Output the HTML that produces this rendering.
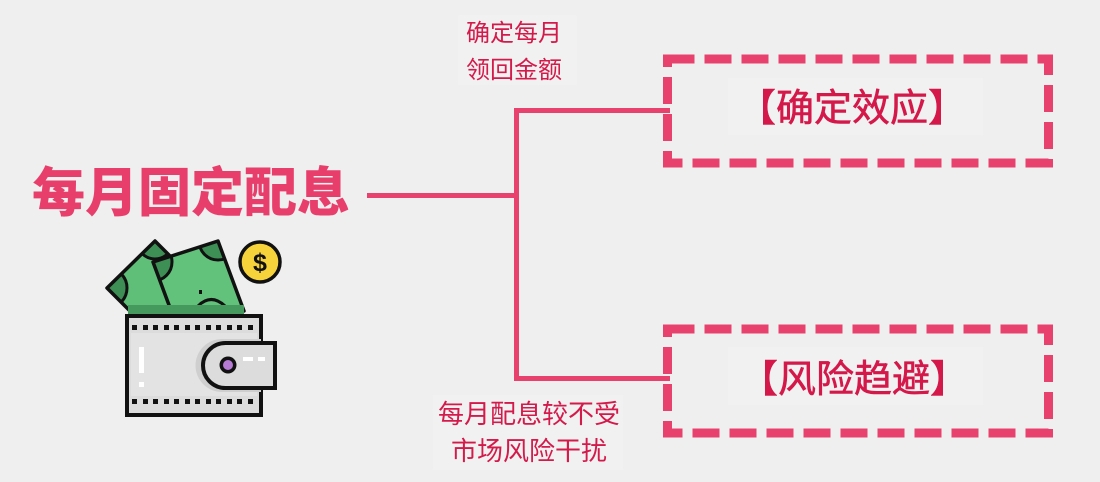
<!DOCTYPE html>
<html>
<head>
<meta charset="utf-8">
<style>
  html,body{margin:0;padding:0;background:#efefef;}
  body{width:1100px;height:482px;overflow:hidden;}
  svg{display:block;}
  .cjk{font-family:"Liberation Sans","Noto Sans CJK SC","WenQuanYi Zen Hei",sans-serif;}
</style>
</head>
<body>
<svg width="1100" height="482" viewBox="0 0 1100 482" xmlns="http://www.w3.org/2000/svg">
  <defs>
    <clipPath id="billA"><polygon points="107,288 155,241 203,289 155,336"/></clipPath>
    <clipPath id="billB"><polygon points="153,262 218,241 244,311 179,332"/></clipPath>
  </defs>
  <rect x="0" y="0" width="1100" height="482" fill="#efefef"/>

  <!-- faint highlight boxes -->
  <rect x="458" y="15" width="119" height="70" fill="#f1f1f1"/>
  <rect x="433" y="395" width="190" height="75" fill="#f1f1f1"/>
  <rect x="728" y="78" width="255" height="57" fill="#f1f1f1"/>
  <rect x="728" y="347" width="255" height="58" fill="#f1f1f1"/>

  <!-- title -->
  <text class="cjk" x="191" y="211" text-anchor="middle" font-size="53" font-weight="900" fill="#e83e6c">每月固定配息</text>

  <!-- connectors -->
  <g fill="#e8416d">
    <rect x="367" y="193" width="152" height="5"/>
    <rect x="514" y="108" width="5" height="273"/>
    <rect x="514" y="108" width="156" height="5"/>
    <rect x="514" y="376" width="156" height="5"/>
  </g>

  <!-- dashed boxes -->
  <rect x="667.5" y="59" width="381" height="104" fill="none" stroke="#e8416d" stroke-width="9" stroke-dasharray="27 10"/>
  <rect x="667.5" y="329" width="381" height="104" fill="none" stroke="#e8416d" stroke-width="9" stroke-dasharray="27 10"/>

  <!-- box texts -->
  <text class="cjk" x="852" y="121" text-anchor="middle" font-size="38" fill="#d4184a" stroke="#d4184a" stroke-width="0.6">【确定效应】</text>
  <text class="cjk" x="854" y="392" text-anchor="middle" font-size="38" fill="#d4184a" stroke="#d4184a" stroke-width="0.6">【风险趋避】</text>

  <!-- labels -->
  <text class="cjk" x="514" y="41" text-anchor="middle" font-size="24" fill="#d41a4b">确定每月</text>
  <text class="cjk" x="514" y="78" text-anchor="middle" font-size="24" fill="#d41a4b">领回金额</text>
  <text class="cjk" x="529" y="423" text-anchor="middle" font-size="26" fill="#d41a4b">每月配息较不受</text>
  <text class="cjk" x="529" y="460" text-anchor="middle" font-size="26" fill="#d41a4b">市场风险干扰</text>

  <!-- wallet illustration -->
  <!-- back bill -->
  <polygon points="107,288 155,241 203,289 155,336" fill="#5fbf78"/>
  <g clip-path="url(#billA)">
    <circle cx="107" cy="288" r="20" fill="#3e8f55" stroke="#111" stroke-width="3"/>
    <circle cx="155" cy="241" r="18" fill="#3e8f55" stroke="#111" stroke-width="3"/>
  </g>
  <polygon points="107,288 155,241 203,289 155,336" fill="none" stroke="#111" stroke-width="3.5" stroke-linejoin="round"/>

  <!-- front bill -->
  <polygon points="153,262 218,241 244,311 179,332" fill="#62c27b"/>
  <g clip-path="url(#billB)">
    <circle cx="153" cy="262" r="19" fill="#3e8f55" stroke="#111" stroke-width="3"/>
    <circle cx="218" cy="241" r="19" fill="#3e8f55" stroke="#111" stroke-width="3"/>
  </g>
  <polygon points="153,262 218,241 244,311 179,332" fill="none" stroke="#111" stroke-width="3.5" stroke-linejoin="round"/>
  <rect x="199" y="290" width="3" height="4" fill="#111"/>
  <path d="M198,306 Q211,293 225,306" fill="none" stroke="#111" stroke-width="3"/>

  <!-- dark band at wallet top -->
  <rect x="128" y="305" width="116" height="11" fill="#45995c"/>

  <!-- wallet body -->
  <rect x="127" y="316" width="134" height="99" fill="#dcdcdd" stroke="#111" stroke-width="4"/>
  <rect x="131" y="333" width="126" height="63" fill="#e3e3e4"/>
  <g fill="#111">
    <rect x="132" y="325" width="5" height="5"/><rect x="143" y="325" width="5" height="5"/>
    <rect x="153" y="325" width="5" height="5"/><rect x="164" y="325" width="5" height="5"/>
    <rect x="174" y="325" width="5" height="5"/><rect x="185" y="325" width="5" height="5"/>
    <rect x="195" y="325" width="5" height="5"/><rect x="206" y="325" width="5" height="5"/>
    <rect x="216" y="325" width="5" height="5"/><rect x="227" y="325" width="5" height="5"/>
    <rect x="237" y="325" width="5" height="5"/><rect x="248" y="325" width="5" height="5"/>
    <rect x="132" y="399" width="5" height="5"/><rect x="143" y="399" width="5" height="5"/>
    <rect x="153" y="399" width="5" height="5"/><rect x="164" y="399" width="5" height="5"/>
    <rect x="174" y="399" width="5" height="5"/><rect x="185" y="399" width="5" height="5"/>
    <rect x="195" y="399" width="5" height="5"/><rect x="206" y="399" width="5" height="5"/>
    <rect x="216" y="399" width="5" height="5"/><rect x="227" y="399" width="5" height="5"/>
    <rect x="237" y="399" width="5" height="5"/><rect x="248" y="399" width="5" height="5"/>
  </g>
  <rect x="139" y="347" width="5" height="26" fill="#ffffff"/>
  <rect x="139" y="382" width="5" height="5" fill="#ffffff"/>

  <!-- clasp -->
  <path d="M222,339 L261,339 L261,392 L222,392 A26.5,26.5 0 0 1 222,339 Z" fill="#cfcfd0"/>
  <path d="M275,343 L225.5,343 A22.5,22.5 0 0 0 225.5,388 L275,388 Z" fill="#dcdcdd" stroke="#111" stroke-width="4" stroke-linejoin="miter"/>
  <circle cx="228" cy="365" r="8.5" fill="#111"/>
  <circle cx="228" cy="365" r="5" fill="#b77bd6"/>
  <rect x="243" y="357" width="10" height="4" fill="#ffffff"/>
  <rect x="258" y="357" width="7" height="4" fill="#ffffff"/>

  <!-- coin -->
  <circle cx="260" cy="262" r="20" fill="#f7d33b" stroke="#111" stroke-width="3.5"/>
  <text x="260" y="271" text-anchor="middle" font-family="'Liberation Sans',sans-serif" font-size="25" font-weight="bold" fill="#111">$</text>
</svg>
</body>
</html>
